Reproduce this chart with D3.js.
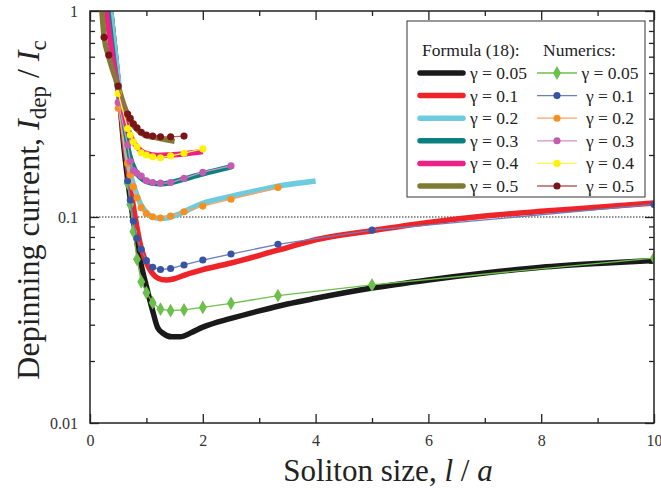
<!DOCTYPE html>
<html>
<head>
<meta charset="utf-8">
<script src="https://cdn.jsdelivr.net/npm/d3@7"></script>
<style>
  body { margin: 0; background: #fff; }
  svg, svg text { font-family: "Liberation Serif", "Times New Roman", serif; }
</style>
</head>
<body>
<svg id="chart" width="661" height="496"></svg>
<script>
// ---- data ----
// x positions of the numerical points (soliton size)
var numX = [10, 5, 3.333, 2.5, 2, 1.667, 1.429, 1.25, 1.111, 1, 0.909, 0.833, 0.769, 0.714, 0.667, 0.5, 0.333, 0.25];

// numerics, one value per numX entry (null = no point)
var num005 = [0.0632, 0.0468, 0.0415, 0.0381, 0.0364, 0.0354, 0.0351, 0.0357, 0.0384, 0.0429, 0.0485, 0.0623, 0.0849, 0.115, 0.146, null, null, null];
var num01  = [0.1151, 0.0863, 0.0737, 0.0661, 0.0618, 0.0585, 0.0562, 0.0556, 0.0570, 0.0614, 0.0697, 0.0788, 0.0956, 0.121, 0.15, null, null, null];
var num02  = [null, null, 0.139, 0.122, 0.113, 0.106, 0.101, 0.0989, 0.1003, 0.104, 0.111, 0.124, 0.140, 0.160, 0.182, 0.337, null, null];
var num03  = [null, null, null, 0.177, 0.165, 0.154, 0.147, 0.146, 0.147, 0.150, 0.158, 0.163, 0.168, 0.186, 0.224, 0.36, null, null];
var num04  = [null, null, null, null, 0.214, 0.204, 0.198, 0.194, 0.196, 0.200, 0.205, 0.219, 0.232, 0.250, 0.269, 0.398, null, null];
var num05  = [null, null, null, null, null, 0.247, 0.245, 0.245, 0.247, 0.250, 0.258, 0.271, 0.283, 0.301, 0.316, 0.432, 0.611, 0.745];

// formula (18) curves: [x, value] samples
var f005 = [[0.35,1.1],[0.5,0.45],[0.6,0.22],[0.7,0.13],[0.8,0.085],[0.9,0.06],[1.0,0.046],[1.1,0.036],[1.2,0.029],[1.3,0.0272],[1.45,0.0262],[1.6,0.0262],[1.8,0.0275],[2.0,0.0292],[2.5,0.0322],[3.0,0.035],[3.5,0.0378],[4,0.0403],[5,0.0452],[6,0.0495],[7,0.0535],[8,0.057],[9,0.0595],[10,0.0615]];
var f01  = [[0.35,1.1],[0.5,0.45],[0.6,0.24],[0.7,0.15],[0.8,0.1],[0.9,0.072],[1.0,0.06],[1.1,0.0535],[1.2,0.0505],[1.35,0.0494],[1.5,0.0502],[1.7,0.0525],[2.0,0.0555],[2.5,0.0598],[3.33,0.069],[4,0.0775],[5,0.0858],[6,0.094],[7,0.101],[8,0.1065],[9,0.1115],[10,0.117]];
var f02  = [[0.35,1.1],[0.5,0.47],[0.6,0.26],[0.7,0.17],[0.8,0.135],[0.9,0.115],[1.0,0.105],[1.1,0.1],[1.25,0.0985],[1.4,0.0995],[1.6,0.104],[2.0,0.1166],[2.5,0.126],[3.0,0.135],[3.33,0.141],[4.0,0.1495]];
var f03  = [[0.3,1.1],[0.45,0.5],[0.6,0.28],[0.7,0.2],[0.8,0.168],[0.9,0.155],[1.0,0.149],[1.1,0.146],[1.25,0.145],[1.4,0.146],[1.6,0.151],[2.0,0.162],[2.5,0.175]];
var f04  = [[0.27,1.1],[0.4,0.6],[0.5,0.42],[0.6,0.31],[0.7,0.255],[0.8,0.225],[0.9,0.21],[1.0,0.203],[1.2,0.199],[1.4,0.2],[1.7,0.203],[2.0,0.208]];
var f05  = [[0.2,1.1],[0.25,0.75],[0.333,0.6],[0.5,0.43],[0.6,0.35],[0.7,0.3],[0.8,0.272],[0.9,0.257],[1.0,0.248],[1.2,0.242],[1.5,0.233]];

var gammaLabels = ["0.05", "0.1", "0.2", "0.3", "0.4", "0.5"];
var formulaColors = ["#1a1a1a", "#ee2429", "#6ccbde", "#0b8080", "#ee1f85", "#7f7b34"];
var numericColors = ["#6dbf4b", "#3953a4", "#f7901e", "#c45bb0", "#fff200", "#7b1416"];
var numericLine   = ["#6dbf4b", "#6a7fc0", "#f7a468", "#d291c8", "#fff34d", "#b0605f"];

var xTicks = [0, 2, 4, 6, 8, 10];
var yTicks = [0.01, 0.1, 1];

// ---- layout ----
var margin = {top: 11, right: 7, bottom: 73, left: 90};
var W = 661, H = 496;
var width = W - margin.left - margin.right,   // 564
    height = H - margin.top - margin.bottom;  // 412
var FONT = "Liberation Serif, Times New Roman, serif";

var svg = d3.select("#chart").attr("font-family", FONT);
var g = svg.append("g").attr("transform", "translate(" + margin.left + "," + margin.top + ")");

var x = d3.scaleLinear().domain([0, 10]).range([0, width]);
var y = d3.scaleLog().domain([0.01, 1]).range([height, 0]);

svg.append("defs").append("clipPath").attr("id", "clip")
  .append("rect").attr("width", width).attr("height", height);

// minor y ticks (log decades)
var yMinor = [];
[0.01, 0.1].forEach(function(d) { for (var k = 2; k < 10; k++) yMinor.push(d * k); });
var xMinor = [1, 3, 5, 7, 9];

function styleAxis(sel) {
  sel.attr("font-family", FONT);
  sel.select(".domain").remove();
  sel.selectAll("line").attr("stroke", "#222").attr("stroke-width", 1.3);
  sel.selectAll("text").attr("fill", "#333").attr("font-family", FONT).style("font-size", "16px");
}

// bottom / top
g.append("g").attr("transform", "translate(0," + height + ")")
  .call(d3.axisBottom(x).tickValues(xTicks).tickSize(-9).tickPadding(12).tickFormat(d3.format("d"))).call(styleAxis);
g.append("g").attr("transform", "translate(0," + height + ")")
  .call(d3.axisBottom(x).tickValues(xMinor).tickSize(-5).tickFormat("")).call(styleAxis);
g.append("g").call(d3.axisTop(x).tickValues(xTicks).tickSize(-9).tickFormat("")).call(styleAxis);
g.append("g").call(d3.axisTop(x).tickValues(xMinor).tickSize(-5).tickFormat("")).call(styleAxis);

// left / right
g.append("g")
  .call(d3.axisLeft(y).tickValues(yTicks).tickSize(-9).tickPadding(12).tickFormat(function(d) { return d; })).call(styleAxis);
g.append("g")
  .call(d3.axisLeft(y).tickValues(yMinor).tickSize(-5).tickFormat("")).call(styleAxis);
g.append("g").attr("transform", "translate(" + width + ",0)")
  .call(d3.axisRight(y).tickValues(yTicks).tickSize(-9).tickFormat("")).call(styleAxis);
g.append("g").attr("transform", "translate(" + width + ",0)")
  .call(d3.axisRight(y).tickValues(yMinor).tickSize(-5).tickFormat("")).call(styleAxis);

// dotted reference line at 0.1
g.append("line")
  .attr("x1", 0).attr("x2", width).attr("y1", y(0.1)).attr("y2", y(0.1))
  .attr("stroke", "#222").attr("stroke-width", 1).attr("stroke-dasharray", "1.5,1.5");

var plot = g.append("g").attr("clip-path", "url(#clip)");

// formula curves (thick)
var curve = d3.line()
  .x(function(d) { return x(d[0]); })
  .y(function(d) { return y(d[1]); })
  .curve(d3.curveMonotoneX);

var formulas = [f005, f01, f02, f03, f04, f05];
formulas.forEach(function(f, i) {
  plot.append("path").datum(f)
    .attr("d", curve)
    .attr("fill", "none")
    .attr("stroke", formulaColors[i])
    .attr("stroke-width", 5.5)
    .attr("stroke-linejoin", "round");
});

// numerics: thin lines with markers
var numerics = [num005, num01, num02, num03, num04, num05];
var seg = d3.line()
  .defined(function(d) { return d[1] != null; })
  .x(function(d) { return x(d[0]); })
  .y(function(d) { return y(d[1]); });

numerics.forEach(function(vals, i) {
  var pts = numX.map(function(xv, j) { return [xv, vals[j]]; });
  plot.append("path").datum(pts)
    .attr("d", seg)
    .attr("fill", "none")
    .attr("stroke", numericLine[i])
    .attr("stroke-width", 1.3);
  var sym = i === 0 ? d3.symbolDiamond : d3.symbolCircle;
  var size = i === 0 ? 55 : 40;
  plot.selectAll(".m" + i)
    .data(pts.filter(function(d) { return d[1] != null; }))
    .enter().append("path")
    .attr("class", "m" + i)
    .attr("transform", function(d) { return "translate(" + x(d[0]) + "," + y(d[1]) + ")"; })
    .attr("d", d3.symbol().type(sym).size(size))
    .attr("fill", numericColors[i]);
});

// frame
g.append("rect").attr("width", width).attr("height", height)
  .attr("fill", "none").attr("stroke", "#222").attr("stroke-width", 1.5);

// ---- legend ----
var lg = svg.append("g").attr("transform", "translate(407,21)");
lg.append("rect").attr("width", 238).attr("height", 176)
  .attr("fill", "#fff").attr("stroke", "#333").attr("stroke-width", 1);
lg.append("text").attr("x", 15).attr("y", 35).attr("font-family", FONT).style("font-size", "17.5px").attr("fill", "#222").text("Formula (18):");
lg.append("text").attr("x", 136).attr("y", 35).attr("font-family", FONT).style("font-size", "17.5px").attr("fill", "#222").text("Numerics:");

gammaLabels.forEach(function(lbl, i) {
  var ry = 52 + i * 22.6;
  lg.append("line").attr("x1", 13).attr("x2", 56).attr("y1", ry).attr("y2", ry)
    .attr("stroke", formulaColors[i]).attr("stroke-width", 5.5).attr("stroke-linecap", "round");
  lg.append("text").attr("x", 63).attr("y", ry + 6).attr("font-family", FONT).style("font-size", "17.5px").attr("fill", "#222")
    .text("\u03b3 = " + lbl);
  lg.append("line").attr("x1", 130).attr("x2", 170).attr("y1", ry).attr("y2", ry)
    .attr("stroke", numericLine[i]).attr("stroke-width", 1.3);
  lg.append("path").attr("transform", "translate(150," + ry + ")")
    .attr("d", d3.symbol().type(i === 0 ? d3.symbolDiamond : d3.symbolCircle).size(i === 0 ? 55 : 40))
    .attr("fill", numericColors[i]);
  lg.append("text").attr("x", 203).attr("y", ry + 6).attr("text-anchor", "middle").attr("font-family", FONT)
    .style("font-size", "17.5px").attr("fill", "#222").text("\u03b3 = " + lbl);
});

// ---- axis titles ----
var xt = svg.append("text").attr("x", 388).attr("y", 481).attr("text-anchor", "middle")
  .attr("font-family", FONT).style("font-size", "31px").attr("fill", "#222");
xt.append("tspan").text("Soliton size, ");
xt.append("tspan").style("font-style", "italic").text("l");
xt.append("tspan").text(" / ");
xt.append("tspan").style("font-style", "italic").text("a");

var yt = svg.append("text").attr("transform", "translate(39,210) rotate(-90)").attr("text-anchor", "middle")
  .attr("font-family", FONT).style("font-size", "32px").attr("fill", "#222");
yt.append("tspan").text("Depinning current, ");
yt.append("tspan").style("font-style", "italic").text("I");
yt.append("tspan").attr("dy", 7).style("font-size", "23px").text("dep");
yt.append("tspan").attr("dy", -7).text(" / ");
yt.append("tspan").style("font-style", "italic").text("I");
yt.append("tspan").attr("dy", 7).style("font-size", "23px").text("c");
</script>
</body>
</html>
